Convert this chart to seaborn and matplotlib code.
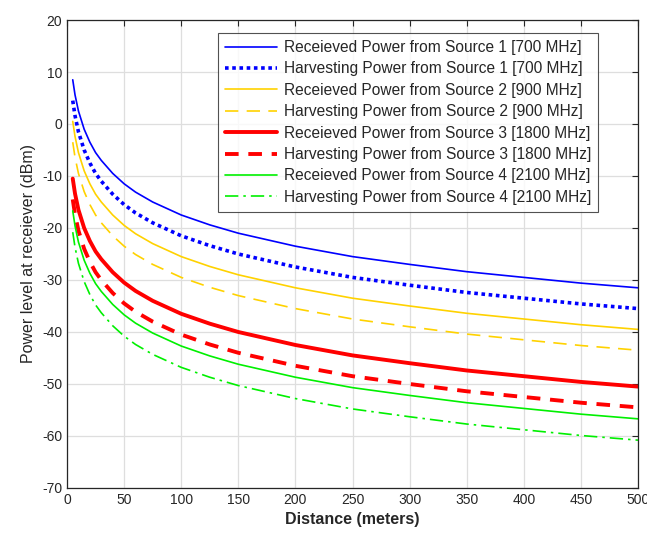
import pandas as pd
import seaborn as sns
import matplotlib.pyplot as plt

# distances (meters)
distance = [5, 7, 10, 15, 20, 25, 30, 40, 50, 60, 75, 100, 125, 150, 200, 250, 300, 350, 400, 450, 500]

# power levels (dBm)
rx_src1 = [8.5, 5.6, 2.5, -1.0, -3.5, -5.5, -7.0, -9.5, -11.5, -13.1, -15.0, -17.5, -19.4, -21.0, -23.5, -25.5, -27.0, -28.4, -29.5, -30.6, -31.5]
hv_src1 = [4.5, 1.6, -1.5, -5.0, -7.5, -9.5, -11.0, -13.5, -15.5, -17.1, -19.0, -21.5, -23.4, -25.0, -27.5, -29.5, -31.0, -32.4, -33.5, -34.6, -35.5]
rx_src2 = [0.5, -2.4, -5.5, -9.0, -11.5, -13.5, -15.0, -17.5, -19.5, -21.1, -23.0, -25.5, -27.4, -29.0, -31.5, -33.5, -35.0, -36.4, -37.5, -38.6, -39.5]
hv_src2 = [-3.5, -6.4, -9.5, -13.0, -15.5, -17.5, -19.0, -21.5, -23.5, -25.1, -27.0, -29.5, -31.4, -33.0, -35.5, -37.5, -39.0, -40.4, -41.5, -42.6, -43.5]
rx_src3 = [-10.5, -13.4, -16.5, -20.0, -22.5, -24.5, -26.0, -28.5, -30.5, -32.1, -34.0, -36.5, -38.4, -40.0, -42.5, -44.5, -46.0, -47.4, -48.5, -49.6, -50.5]
hv_src3 = [-14.5, -17.4, -20.5, -24.0, -26.5, -28.5, -30.0, -32.5, -34.5, -36.1, -38.0, -40.5, -42.4, -44.0, -46.5, -48.5, -50.0, -51.4, -52.5, -53.6, -54.5]
rx_src4 = [-16.7, -19.6, -22.7, -26.2, -28.7, -30.7, -32.2, -34.7, -36.7, -38.3, -40.2, -42.7, -44.6, -46.2, -48.7, -50.7, -52.2, -53.6, -54.7, -55.8, -56.7]
hv_src4 = [-20.8, -23.7, -26.8, -30.3, -32.8, -34.8, -36.3, -38.8, -40.8, -42.4, -44.3, -46.8, -48.7, -50.3, -52.8, -54.8, -56.3, -57.7, -58.8, -59.9, -60.8]

labels = [
    'Receieved Power from Source 1 [700 MHz]',
    'Harvesting Power from Source 1 [700 MHz]',
    'Receieved Power from Source 2 [900 MHz]',
    'Harvesting Power from Source 2 [900 MHz]',
    'Receieved Power from Source 3 [1800 MHz]',
    'Harvesting Power from Source 3 [1800 MHz]',
    'Receieved Power from Source 4 [2100 MHz]',
    'Harvesting Power from Source 4 [2100 MHz]',
]
series = [rx_src1, hv_src1, rx_src2, hv_src2, rx_src3, hv_src3, rx_src4, hv_src4]

gold = '#FFD200'
green = '#00F000'
styles = [
    dict(color='#0000FF', linestyle='-', linewidth=1.2),
    dict(color='#0000FF', linestyle=(0, (1, 1)), linewidth=2.6),
    dict(color=gold, linestyle='-', linewidth=1.2),
    dict(color=gold, linestyle=(0, (8, 5)), linewidth=1.2),
    dict(color='#FF0000', linestyle='-', linewidth=2.8),
    dict(color='#FF0000', linestyle=(0, (3.5, 2.5)), linewidth=2.8),
    dict(color=green, linestyle='-', linewidth=1.2),
    dict(color=green, linestyle=(0, (8, 3, 1.5, 3)), linewidth=1.2),
]

sns.set_style('whitegrid')
plt.rcParams['font.family'] = ['Liberation Sans', 'DejaVu Sans']
plt.rcParams['axes.unicode_minus'] = False

fig = plt.figure(figsize=(6.47, 5.45), dpi=100)
ax = fig.add_axes([0.1036, 0.1046, 0.8825, 0.8587])

for lab, vals, st in zip(labels, series, styles):
    df = pd.DataFrame({'Distance': distance, 'Power': vals})
    sns.lineplot(data=df, x='Distance', y='Power', ax=ax, label=lab, **st)

ax.set_xlim(0, 500)
ax.set_ylim(-70, 20)
ax.set_xticks(range(0, 501, 50))
ax.set_yticks(range(-70, 21, 10))
ax.grid(True, color='#DEDEDE', linewidth=0.9)
for s in ax.spines.values():
    s.set_color('#262626')
    s.set_linewidth(0.9)
ax.tick_params(direction='in', length=4, width=0.8, colors='#262626', labelsize=10,
               top=True, right=True, labelcolor='#262626')
ax.set_xlabel('Distance (meters)', fontsize=11.5, fontweight='bold', color='#262626')
ax.set_ylabel('Power level at receiever (dBm)', fontsize=11.5, color='#262626')

leg = ax.legend(loc='upper right', bbox_to_anchor=(0.93, 0.972), borderaxespad=0,
                fontsize=11.2, frameon=True, fancybox=False, handlelength=3.4,
                labelspacing=0.41, borderpad=0.45, handletextpad=0.4)
leg.get_frame().set_edgecolor('#262626')
leg.get_frame().set_linewidth(0.8)

fig.savefig('out.png', dpi=100)
